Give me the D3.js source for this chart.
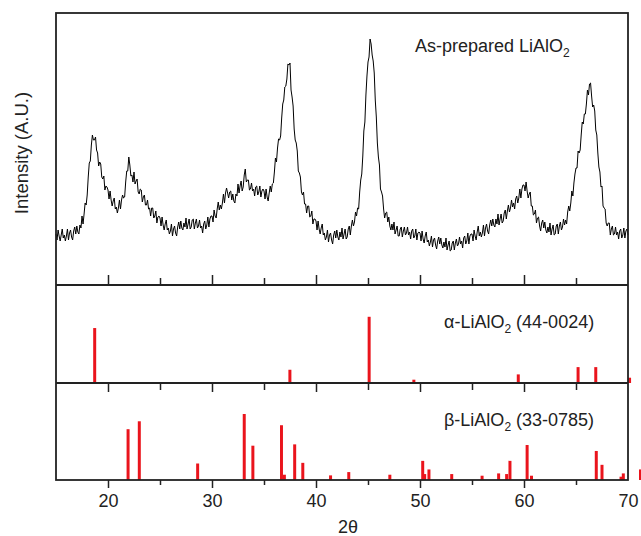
<!DOCTYPE html>
<html lang="en">
<head>
<meta charset="UTF-8">
<title>XRD LiAlO2</title>
<script src="https://d3js.org/d3.v7.min.js"></script>
<style>
  body { margin: 0; background: #fff; }
  svg text { font-family: "Liberation Sans", Arial, sans-serif; fill: #222; }
  .axis path { display: none; }
  .axis line { stroke: #222; stroke-width: 1.5; }
</style>
</head>
<body>
<div id="chart"></div>
<script>
// measured scan, 15-70 deg 2theta, step 0.1
const scanStart = 15, scanStep = 0.1;
const scanCounts = [
  51,45,55,49,44,50,56,47,50,44, 49,56,45,52,55,48,45,54,58,51,
  59,53,51,60,57,69,61,71,82,80, 90,108,122,124,140,150,145,145,148,135,
  132,119,123,121,108,106,109,95,99,98, 95,86,94,85,79,84,87,76,78,72,
  77,85,76,85,90,87,88,103,114,114, 128,120,109,110,103,113,101,104,106,93,
  91,96,95,83,88,90,80,80,85,76, 77,69,77,77,67,69,74,62,68,69,
  67,59,68,60,55,61,65,55,57,51, 54,61,49,56,59,52,49,58,63,56,
  64,57,55,62,58,67,56,61,66,56, 58,65,66,56,62,66,57,59,65,57,
  59,52,61,64,56,60,68,58,66,69, 69,63,75,69,67,76,83,75,80,76,
  82,91,82,92,97,92,87,93,94,85, 91,84,82,91,89,101,92,99,104,94,
  98,110,116,103,105,105,95,96,102,94, 96,89,98,99,90,93,99,88,94,96,
  94,86,96,88,84,92,99,93,101,102, 113,127,123,137,146,145,149,167,181,185,
  198,199,206,221,220,222,195,188,179,156, 145,142,134,114,112,108,93,90,93,81,
  81,72,79,79,68,69,74,61,66,66, 64,55,64,56,51,57,61,50,52,45,
  48,55,43,50,52,45,41,50,54,47, 55,48,45,53,48,57,46,51,56,46,
  48,56,59,50,59,65,59,63,73,69, 77,76,93,105,111,129,154,163,190,209,
  223,228,246,241,230,224,212,185,168,142, 128,120,96,93,89,76,67,72,73,63,
  68,59,55,61,55,63,51,55,59,49, 49,56,58,48,54,58,50,52,58,50,
  53,46,54,56,47,49,56,45,52,53, 52,44,54,46,42,49,53,43,45,39,
  43,49,38,45,47,40,36,44,48,41, 47,40,37,43,38,47,35,40,44,34,
  35,42,44,35,42,46,39,41,48,41, 44,37,47,49,41,44,52,41,49,51,
  51,44,55,49,45,53,59,49,53,48, 52,60,49,57,61,54,51,60,65,59,
  66,60,58,66,61,71,60,66,71,62, 64,72,75,66,74,80,73,77,85,78,
  82,76,86,89,82,87,96,87,96,100, 100,94,103,94,87,91,93,79,79,70,
  71,75,62,67,68,59,54,62,65,57, 63,55,52,58,53,62,50,56,60,50,
  51,59,61,51,59,63,55,58,66,60, 65,61,73,79,74,82,94,89,102,111,
  117,117,134,132,135,150,163,161,171,171, 181,195,190,201,202,189,178,180,174,155,
  150,132,118,113,98,99,79,77,76,62, 59,62,62,50,56,59,50,51,58,50,
  53,46,54,56,47,50,57,47,54,56, 50
];

// reference patterns: 2theta and relative intensity
const alphaPos = [18.72, 37.49, 45.11, 49.41, 59.45, 65.2, 66.9, 70.15];
const alphaInt = [83, 20, 100, 5, 13, 24, 24, 8];

const betaPos = [21.93, 23.01, 28.62, 33.1, 33.93, 36.68, 36.96, 37.95, 38.73, 41.4,
                 43.15, 47.1, 50.26, 50.45, 50.86, 53.05, 55.97, 57.56, 58.33, 58.65,
                 60.3, 60.72, 66.95, 67.5, 69.33, 69.55, 71.2];
const betaInt = [77, 89, 25, 100, 52, 83, 8, 54, 26, 7,
                 12, 8, 29, 9, 16, 9, 6.5, 10, 9, 29,
                 53, 6.5, 44, 23, 5, 10, 16];

const xTicks = [20, 30, 40, 50, 60, 70];
const xMinor = [25, 35, 45, 55, 65];

const scan = scanCounts.map((c, i) => ({ t: scanStart + i * scanStep, c: c }));

const W = 641, H = 536;
const left = 56, right = 628;
const p1 = { top: 13, bottom: 285 },
      p2 = { top: 285, bottom: 383 },
      p3 = { top: 383, bottom: 480 };

const svg = d3.select("#chart").append("svg")
    .attr("width", W).attr("height", H);

const x = d3.scaleLinear().domain([15, 70]).range([left, right]);
const y1 = d3.scaleLinear().domain([0, 272]).range([p1.bottom, p1.top]);
const y2 = d3.scaleLinear().domain([0, 148]).range([p2.bottom, p2.top]);
const y3 = d3.scaleLinear().domain([0, 147]).range([p3.bottom, p3.top]);

// scan trace
svg.append("path")
    .datum(scan)
    .attr("fill", "none")
    .attr("stroke", "#000")
    .attr("stroke-width", 1)
    .attr("d", d3.line().x(d => x(d.t)).y(d => y1(d.c)));

// stick patterns
function sticks(pos, inten, y, cls) {
    svg.append("g").attr("class", cls)
        .selectAll("line")
        .data(pos.map((p, i) => ({ p: p, v: inten[i] })))
        .enter().append("line")
        .attr("x1", d => x(d.p)).attr("x2", d => x(d.p))
        .attr("y1", y(0)).attr("y2", d => y(d.v))
        .attr("stroke", "#ea141c")
        .attr("stroke-width", 3);
}
sticks(alphaPos, alphaInt, y2, "alpha");
sticks(betaPos, betaInt, y3, "beta");

// ticks
function ticks(axis, yPos, vals, size) {
    svg.append("g").attr("class", "axis")
        .attr("transform", `translate(0,${yPos})`)
        .call(axis(x).tickValues(vals).tickSize(size).tickFormat(""));
}
ticks(d3.axisTop, p1.bottom, xTicks.slice(0, 5), 10);
ticks(d3.axisTop, p1.bottom, xMinor, 7);
ticks(d3.axisBottom, p2.bottom, xTicks.slice(0, 5), 9);
ticks(d3.axisBottom, p2.bottom, xMinor, 7);
ticks(d3.axisBottom, p3.bottom, xTicks.slice(0, 5), 8);
ticks(d3.axisBottom, p3.bottom, xMinor, 5);

const bottomAxis = svg.append("g").attr("class", "axis")
    .attr("transform", `translate(0,${p3.bottom})`)
    .call(d3.axisBottom(x).tickValues(xTicks).tickSize(0).tickPadding(14));
bottomAxis.selectAll("text").style("font-size", "18px").attr("fill", "#222");

// frame and panel dividers
svg.append("rect")
    .attr("x", left).attr("y", p1.top)
    .attr("width", right - left).attr("height", p3.bottom - p1.top)
    .attr("fill", "none").attr("stroke", "#222").attr("stroke-width", 1.8);
svg.selectAll(".divider")
    .data([p1.bottom, p2.bottom])
    .enter().append("line")
    .attr("x1", left).attr("x2", right)
    .attr("y1", d => d).attr("y2", d => d)
    .attr("stroke", "#222").attr("stroke-width", 1.8);

// labels
function formula(xp, yp, pre, post) {
    const t = svg.append("text").attr("x", xp).attr("y", yp).style("font-size", "18px");
    t.append("tspan").text(pre + "LiAlO");
    t.append("tspan").attr("dy", 5).style("font-size", "12px").text("2");
    t.append("tspan").attr("dy", -5).text(post);
}
formula(415, 52, "As-prepared ", "");
formula(444, 328, "\u03b1-", " (44-0024)");
formula(444, 426, "\u03b2-", " (33-0785)");

svg.append("text")
    .attr("transform", "translate(28,153) rotate(-90)")
    .attr("text-anchor", "middle")
    .style("font-size", "18.5px")
    .text("Intensity (A.U.)");

svg.append("text")
    .attr("x", 348).attr("y", 533)
    .attr("text-anchor", "middle")
    .style("font-size", "18px")
    .text("2\u03b8");
</script>
</body>
</html>
